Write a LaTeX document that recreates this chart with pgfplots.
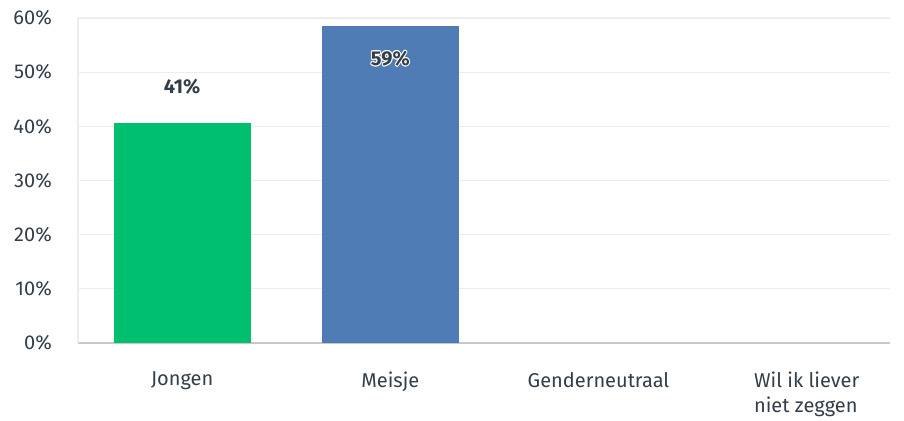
\documentclass[border=0pt]{standalone}
\usepackage{fontspec}
\setmainfont{Fira Sans}
\usepackage{pgfplots}
\pgfplotsset{compat=1.18}
\definecolor{smgreen}{HTML}{00BF6F}
\definecolor{smblue}{HTML}{507CB6}
\definecolor{smtext}{HTML}{333E48}
\definecolor{smgrid}{HTML}{EDEDED}
\definecolor{smaxis}{HTML}{C8C8C8}
\newcommand{\halo}[1]{\leavevmode
  \rlap{\textcolor{white}{\kern1pt#1}}%
  \rlap{\textcolor{white}{\kern-1pt#1}}%
  \rlap{\textcolor{white}{\raisebox{1pt}{#1}}}%
  \rlap{\textcolor{white}{\raisebox{-1pt}{#1}}}%
  \rlap{\textcolor{white}{\kern0.7pt\raisebox{0.7pt}{#1}}}%
  \rlap{\textcolor{white}{\kern-0.7pt\raisebox{0.7pt}{#1}}}%
  \rlap{\textcolor{white}{\kern0.7pt\raisebox{-0.7pt}{#1}}}%
  \rlap{\textcolor{white}{\kern-0.7pt\raisebox{-0.7pt}{#1}}}%
  #1}
\begin{document}
\fontsize{20pt}{25pt}\selectfont
\begin{tikzpicture}
\path[use as bounding box] (-78pt,-77pt) rectangle (826pt,343pt);
\begin{axis}[
  at={(0,0)}, anchor=south west,
  scale only axis, width=812pt, height=325pt,
  xmin=-0.5, xmax=3.4, ymin=0, ymax=60,
  ytick={0,10,...,60},
  yticklabel={\pgfmathprintnumber{\tick}\%},
  /pgf/number format/assume math mode=true,
  xtick={0,1,2,3},
  xticklabels={Jongen,Meisje,Genderneutraal,{Wil ik liever\\niet zeggen}},
  ticklabel style={font=\fontsize{20pt}{24.5pt}\selectfont, text=smtext},
  xticklabel style={align=left, anchor=north, inner sep=0pt, yshift=-29pt},
  yticklabel style={anchor=east, inner sep=0pt, xshift=-26pt},
  major tick length=0pt,
  ymajorgrids, grid style={smgrid, line width=1.2pt},
  axis x line*=bottom, axis y line*=left,
  x axis line style={smaxis, line width=1.8pt, -},
  y axis line style={smgrid, line width=1.5pt, -},
  clip=false,
  nodes near coords={\pgfmathprintnumber[fixed,precision=0]{\pgfplotspointmeta}\%},
  every node near coord/.append style={font=\fontsize{20pt}{22pt}\selectfont\bfseries, text=smtext, anchor=center},
]
\addplot[ybar, bar width=137pt, bar shift=0pt, fill=smgreen, draw=none,
  every node near coord/.append style={yshift=36pt}]
  coordinates {(0,40.7)};
\addplot[ybar, bar width=137pt, bar shift=0pt, fill=smblue, draw=none,
  nodes near coords={\halo{\pgfmathprintnumber[fixed,precision=0]{\pgfplotspointmeta}\%}},
  every node near coord/.append style={yshift=-33pt}]
  coordinates {(1,58.6)};
\end{axis}
\end{tikzpicture}
\end{document}
